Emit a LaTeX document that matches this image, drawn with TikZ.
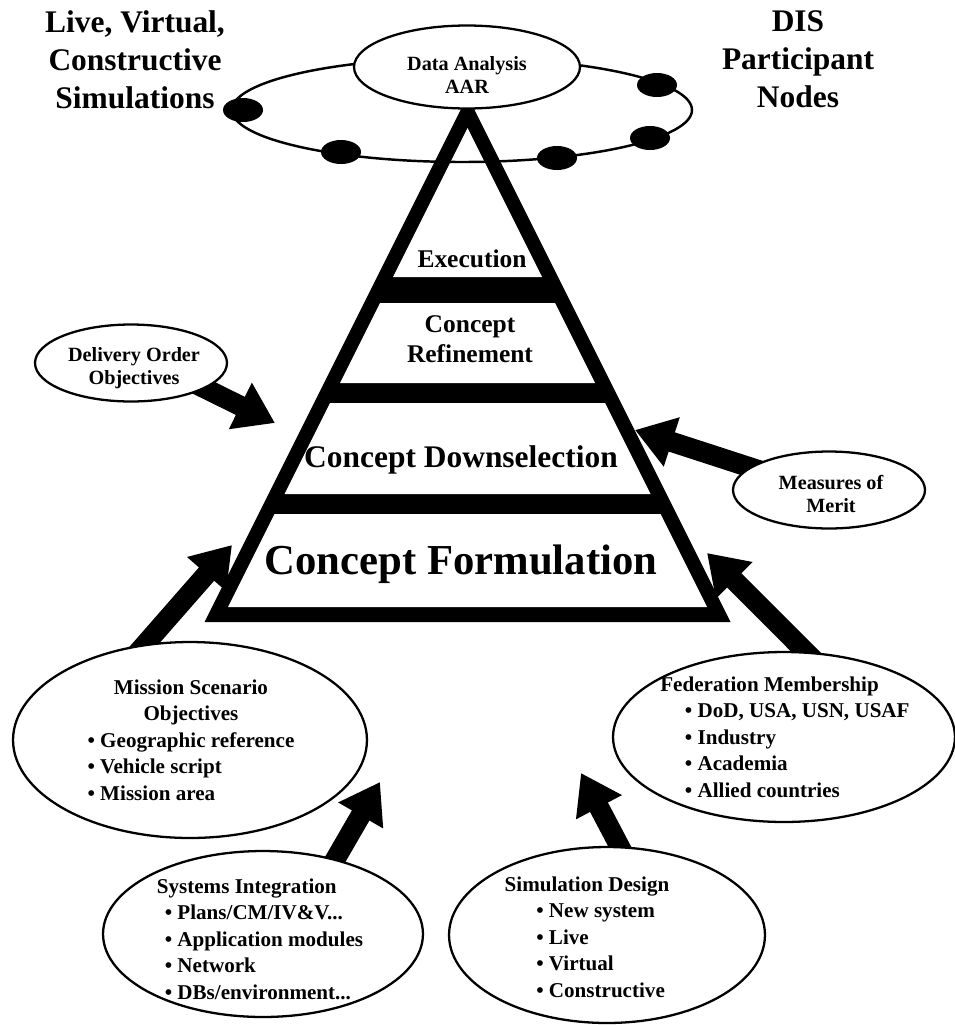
\documentclass[tikz,border=0pt]{standalone}
\usepackage{fontspec}
\setmainfont{Liberation Serif}
\usetikzlibrary{positioning,arrows.meta,shapes.geometric,backgrounds}
\newcommand{\ovalitem}[2][0pt]{\hspace*{#1}\textbullet\ #2}

\begin{document}
\begin{tikzpicture}[x=0.02cm, y=-0.02cm,
    oval/.style={ellipse, draw, line width=1.3pt, fill=white, inner sep=0pt},
    fatarrow/.style={line width=11.5pt, shorten <=-8pt, -{Triangle[length=22pt, width=28pt]}},
    sidetext/.style={font=\bfseries\fontsize{17.9}{21.5}\selectfont, align=center},
    tiertext/.style={font=\bfseries\fontsize{14.5}{17}\selectfont, align=center},
    ovaltext/.style={font=\bfseries\fontsize{11.5}{13.5}\selectfont, align=center},
    listtext/.style={font=\bfseries\fontsize{12}{15.1}\selectfont, inner sep=0pt},
]
\useasboundingbox (0,0) rectangle (955,1025);

% pyramid
\fill (467.5,96) -- (730.5,622) -- (204.5,622) -- cycle;
\fill[white] (467.5,128) -- (542,277) -- (393,277) -- cycle;
\foreach \ya/\yb in {303/383, 403/494, 514/607}
    \fill[white] ({467.5-0.5*(\ya-128)},\ya) -- ({467.5+0.5*(\ya-128)},\ya)
        -- ({467.5+0.5*(\yb-128)},\yb) -- ({467.5-0.5*(\yb-128)},\yb) -- cycle;

\node[tiertext, anchor=base] (exec) at (472,267) {Execution};
\node[tiertext] (refine) at (470,339) {Concept\\Refinement};
\node[font=\bfseries\fontsize{17.9}{20}\selectfont, anchor=base] (downsel) at (461,467) {Concept Downselection};
\node[font=\bfseries\fontsize{24.3}{27}\selectfont, anchor=base] (formul) at (461,574) {Concept Formulation};

% DIS ring
\draw[line width=1.4pt] (462,110) ellipse [x radius=230, y radius=52];
\node[oval, minimum width=4.52cm, minimum height=1.66cm] (da) at (467,67) {};
\node[ovaltext] (daText) at (467,75) {Data Analysis\\AAR};
\foreach \cx/\cy in {243/110, 341/152, 557/158, 650/138, 657/85}
    \fill (\cx,\cy) ellipse [x radius=20, y radius=12];

\node[sidetext] (lvc) at (135,60) {Live, Virtual,\\Constructive\\Simulations};
\node[sidetext] (dis) at (798,59) {DIS\\Participant\\Nodes};

% inputs
\node[oval, minimum width=3.84cm, minimum height=1.54cm] (deliv) at (131,363) {};
\node[ovaltext] (delivText) at (134,368) {Delivery Order\\Objectives};
\node[oval, minimum width=3.84cm, minimum height=1.54cm] (merit) at (829,490) {};
\node[ovaltext] (meritText) at (831,494) {Measures of\\Merit};

\node[oval, minimum width=7.08cm, minimum height=3.92cm] (mission) at (190,740) {};
\node[listtext] (missionText) at (191,742) {\begin{tabular}{@{}l@{}}
    \multicolumn{1}{@{}c@{}}{Mission Scenario}\\
    \multicolumn{1}{@{}c@{}}{Objectives}\\
    \ovalitem{Geographic reference}\\
    \ovalitem{Vehicle script}\\
    \ovalitem{Mission area}
\end{tabular}};

\node[oval, minimum width=6.4cm, minimum height=3.32cm] (sys) at (263,934) {};
\node[listtext] (sysText) at (260,941) {\begin{tabular}{@{}l@{}}
    Systems Integration\\
    \ovalitem[4.5pt]{Plans/CM/IV\&V...}\\
    \ovalitem[4.5pt]{Application modules}\\
    \ovalitem[4.5pt]{Network}\\
    \ovalitem[4.5pt]{DBs/environment...}
\end{tabular}};

\node[oval, minimum width=6.84cm, minimum height=3.4cm] (fed) at (784,737) {};
\node[listtext] (fedText) at (785,739) {\begin{tabular}{@{}l@{}}
    Federation Membership\\
    \ovalitem[14pt]{DoD, USA, USN, USAF}\\
    \ovalitem[14pt]{Industry}\\
    \ovalitem[14pt]{Academia}\\
    \ovalitem[14pt]{Allied countries}
\end{tabular}};

\node[oval, minimum width=6.32cm, minimum height=3.52cm] (sim) at (607,935) {};
\node[listtext] (simText) at (587,939) {\begin{tabular}{@{}l@{}}
    Simulation Design\\
    \ovalitem[18pt]{New system}\\
    \ovalitem[18pt]{Live}\\
    \ovalitem[18pt]{Virtual}\\
    \ovalitem[18pt]{Constructive}
\end{tabular}};

% arrow tips
\coordinate (delivTip) at (275,423);
\coordinate (meritTip) at (635,430);
\coordinate (missionTip) at (232,545);
\coordinate (fedTip) at (707,553);
\coordinate (sysTip) at (380,782);
\coordinate (simTip) at (581,773);

\begin{scope}[on background layer]
\draw[fatarrow] (deliv.-19) -- (delivTip);
\draw[fatarrow] (merit.164) -- (meritTip);
\draw[fatarrow] (mission.115) -- (missionTip);
\draw[fatarrow] (fed.76) -- (fedTip);
\draw[fatarrow] (sys.46) -- (sysTip);
\draw[fatarrow] (sim.82) -- (simTip);
\end{scope}
\end{tikzpicture}
\end{document}
